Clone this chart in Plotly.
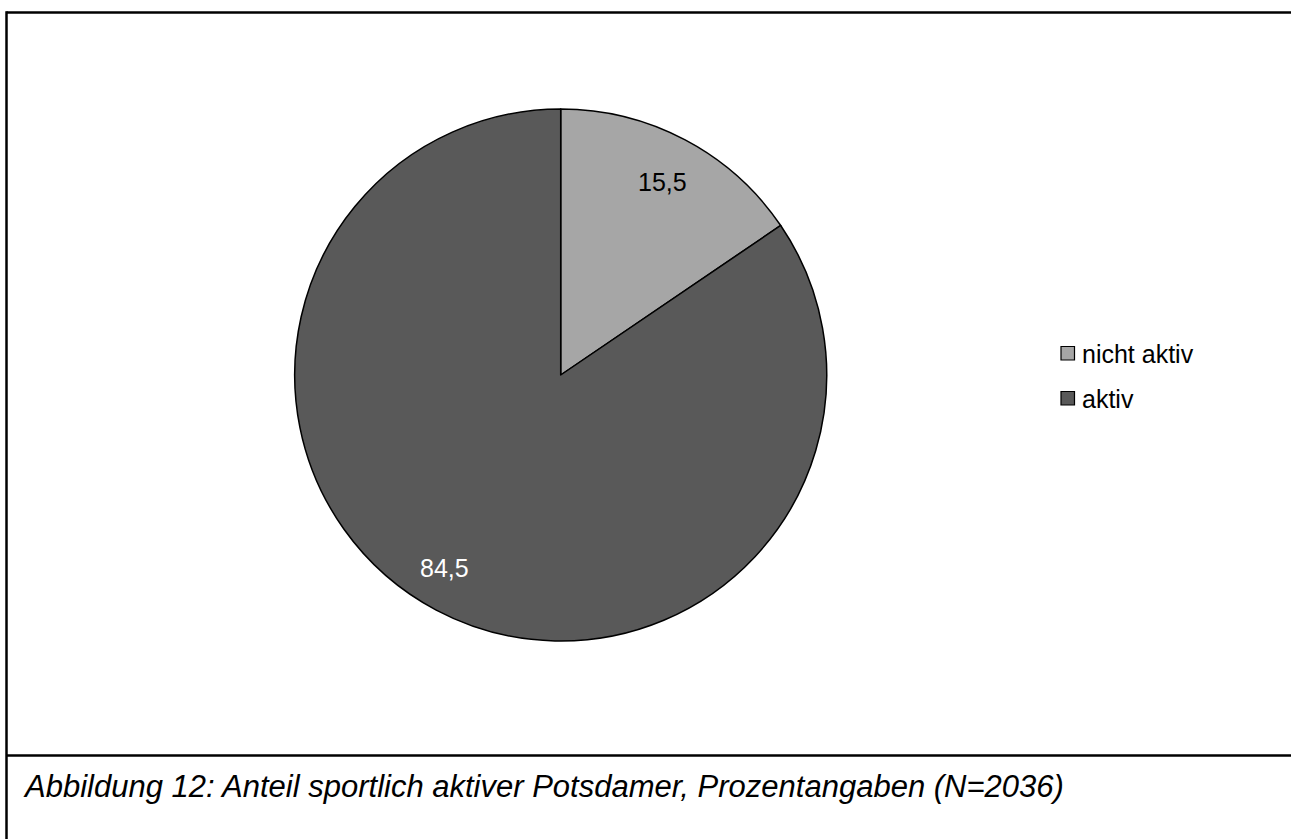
import math
import plotly.graph_objects as go

labels = ["nicht aktiv", "aktiv"]
values = [15.5, 84.5]
value_text = ["15,5", "84,5"]
colors = ["#A6A6A6", "#595959"]
text_colors = ["#000000", "#FFFFFF"]
caption = "Abbildung 12: Anteil sportlich aktiver Potsdamer, Prozentangaben (N=2036)"

# style: small horizontal nudges for the data labels (pixels)
label_xshift = [0, -14]

W, H = 1291, 839
FONT = "Liberation Sans, Arial, sans-serif"

# pie geometry in pixels
cx, cy, R = 560.7, 375.0, 266.0

def px(x):
    return x / W

def py(y):
    return 1 - y / H

fig = go.Figure()
fig.add_trace(go.Pie(
    labels=labels,
    values=values,
    sort=False,
    direction="clockwise",
    rotation=0,
    marker=dict(colors=colors, line=dict(color="#000000", width=1.5)),
    textinfo="none",
    hoverinfo="label+value",
    showlegend=False,
    domain=dict(x=[px(cx - R), px(cx + R)], y=[py(cy + R), py(cy - R)]),
))

annotations = []
# data labels at the slice mid-angles
total = sum(values)
cum = 0.0
for v, t, tc, xs in zip(values, value_text, text_colors, label_xshift):
    mid = (cum + v / 2) / total * 2 * math.pi
    cum += v
    f = 0.82
    x = cx + R * f * math.sin(mid)
    y = cy - R * f * math.cos(mid)
    annotations.append(dict(x=px(x), y=py(y), xref="paper", yref="paper", xshift=xs,
                            text=t, showarrow=False, xanchor="center", yanchor="middle",
                            font=dict(family=FONT, size=25, color=tc)))

# manual legend
shapes = []
leg_x, leg_y0, leg_dy, sq = 1061, 346.5, 45, 13.5
for i, (lab, col) in enumerate(zip(labels, colors)):
    y0 = leg_y0 + i * leg_dy
    shapes.append(dict(type="rect", xref="paper", yref="paper",
                       x0=px(leg_x), x1=px(leg_x + sq), y0=py(y0 + sq), y1=py(y0),
                       fillcolor=col, line=dict(color="#000000", width=1.2)))
    annotations.append(dict(x=px(leg_x + 19), y=py(y0 + sq / 2 + 0.5), xref="paper", yref="paper",
                            text=lab, showarrow=False, xanchor="left", yanchor="middle",
                            font=dict(family=FONT, size=25, color="#000000")))

# frame lines
lw = 2.5
shapes.append(dict(type="line", xref="paper", yref="paper", x0=px(6.5), x1=1.02, y0=py(12.5), y1=py(12.5),
                   line=dict(color="#000000", width=lw)))
shapes.append(dict(type="line", xref="paper", yref="paper", x0=px(6.5), x1=px(6.5), y0=py(11.3), y1=-0.02,
                   line=dict(color="#000000", width=lw)))
shapes.append(dict(type="line", xref="paper", yref="paper", x0=px(6.5), x1=1.02, y0=py(755.5), y1=py(755.5),
                   line=dict(color="#000000", width=lw)))

annotations.append(dict(x=px(21), y=py(786), xref="paper", yref="paper", text="<i>" + caption + "</i>",
                        showarrow=False, xanchor="left", yanchor="middle",
                        font=dict(family=FONT, size=31, color="#000000")))

fig.update_layout(
    width=W, height=H,
    margin=dict(l=0, r=0, t=0, b=0),
    paper_bgcolor="#FFFFFF",
    plot_bgcolor="#FFFFFF",
    shapes=shapes,
    annotations=annotations,
    showlegend=False,
)

fig.write_html("out.html", include_plotlyjs=True, config={"displayModeBar": False},
               post_script="document.body.style.margin='0';document.body.style.overflow='hidden';")
